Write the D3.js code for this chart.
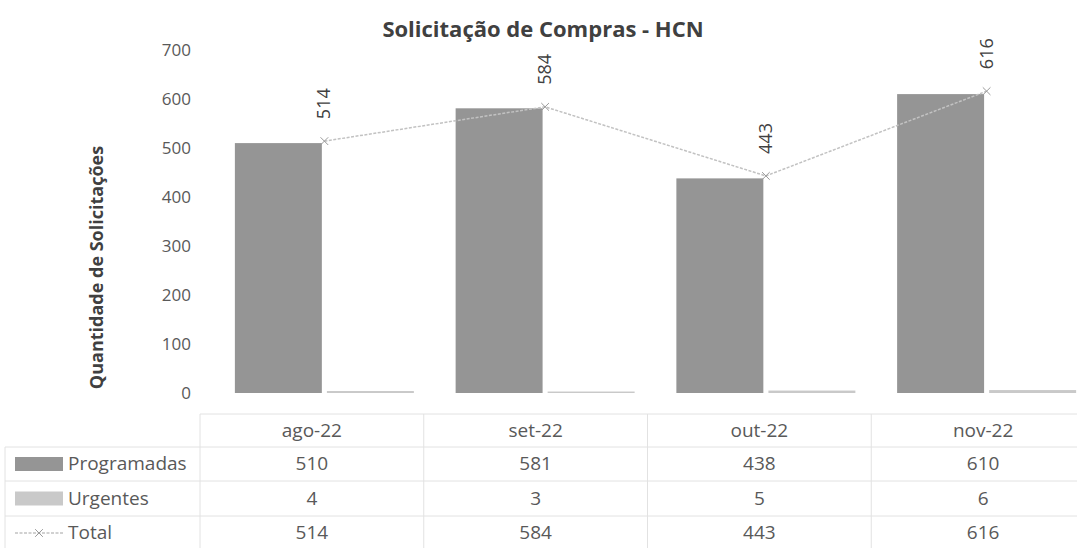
<!DOCTYPE html>
<html>
<head>
<meta charset="utf-8">
<script src="https://cdn.jsdelivr.net/npm/d3@7"></script>
<style>
  html, body { margin: 0; padding: 0; background: #fff; }
  svg { display: block; font-family: "Open Sans", "Noto Sans", sans-serif; }
</style>
</head>
<body>
<svg id="chart" width="1077" height="548"></svg>
<script>
const categories = ["ago-22", "set-22", "out-22", "nov-22"];
const programadas = [510, 581, 438, 610];
const urgentes = [4, 3, 5, 6];
const total = [514, 584, 443, 616];
const yTicks = [0, 100, 200, 300, 400, 500, 600, 700];
const seriesNames = ["Programadas", "Urgentes", "Total"];
const title = "Solicitação de Compras - HCN";
const yTitle = "Quantidade de Solicitações";

const colors = { Programadas: "#959595", Urgentes: "#c9c9c9", Total: "#c2c2c2" };
const textColor = "#595959";
const gridColor = "#e2e2e2";

const svg = d3.select("#chart");
const W = 1077, H = 548;

// plot band scale and data-table band scale
const x = d3.scaleBand().domain(categories).range([214, 1097]).padding(0);
const xt = d3.scaleBand().domain(categories).range([200, 1095]).padding(0);
const bw = x.bandwidth();
const groupW = 179;
const x1 = d3.scaleBand().domain(["Programadas", "Urgentes"])
  .range([(bw - groupW) / 2, (bw + groupW) / 2]).paddingInner(0.055);
const y = d3.scaleLinear().domain([0, 700]).range([393, 50]);

// Title
svg.append("text").attr("x", 543).attr("y", 37)
  .attr("text-anchor", "middle").attr("font-size", 22).attr("font-weight", "bold")
  .attr("fill", "#404040").text(title);

// Y axis title
svg.append("text")
  .attr("transform", `translate(103, ${(y(0) + y(700)) / 2 + 46}) rotate(-90)`)
  .attr("text-anchor", "middle").attr("font-size", 18).attr("font-weight", "bold")
  .attr("fill", "#404040").text(yTitle);

// Y axis
const yAxis = d3.axisLeft(y).tickValues(yTicks).tickSize(0).tickPadding(0);
const gy = svg.append("g").attr("transform", "translate(191,0)").call(yAxis);
gy.select(".domain").remove();
gy.selectAll("text").attr("font-size", 17).attr("fill", textColor)
  .attr("font-family", "\"Open Sans\", sans-serif");

// Bars
const bars = svg.append("g");
categories.forEach((c, i) => {
  const vals = { Programadas: programadas[i], Urgentes: urgentes[i] };
  ["Programadas", "Urgentes"].forEach(s => {
    bars.append("rect")
      .attr("x", x(c) + x1(s)).attr("width", x1.bandwidth())
      .attr("y", y(vals[s])).attr("height", y(0) - y(vals[s]))
      .attr("fill", colors[s]);
  });
});

// Total line
const cx = c => x(c) + bw / 2;
const pts = categories.map((c, i) => [cx(c), y(total[i])]);
svg.append("path").attr("d", d3.line()(pts))
  .attr("fill", "none").attr("stroke", colors.Total).attr("stroke-width", 1.5)
  .attr("stroke-dasharray", "3,1.5");
const cross = d3.symbol().type(d3.symbolX).size(40);
svg.append("g").selectAll("path.m").data(pts).join("path")
  .attr("transform", d => `translate(${d[0]},${d[1]})`)
  .attr("d", cross()).attr("fill", "none").attr("stroke", "#9a9a9a").attr("stroke-width", 1);

// Data labels (rotated)
svg.append("g").selectAll("text").data(categories).join("text")
  .attr("transform", (c, i) => `translate(${cx(c) + 6}, ${y(total[i]) - 22}) rotate(-90)`)
  .attr("text-anchor", "start").attr("font-size", 18).attr("fill", "#404040")
  .text((c, i) => total[i]);

// Data table
const rowTop = [414, 447, 481, 516, 550];
const tcx = c => xt(c) + xt.bandwidth() / 2;
const tg = svg.append("g");
rowTop.slice(0, 4).forEach((ry, k) => {
  tg.append("line").attr("x1", k === 0 ? xt.range()[0] : 5).attr("x2", W)
    .attr("y1", ry).attr("y2", ry).attr("stroke", gridColor).attr("stroke-width", 1);
});
categories.forEach(c => {
  tg.append("line").attr("x1", xt(c)).attr("x2", xt(c)).attr("y1", rowTop[0]).attr("y2", H)
    .attr("stroke", gridColor);
});
tg.append("line").attr("x1", 5).attr("x2", 5).attr("y1", rowTop[1]).attr("y2", H).attr("stroke", gridColor);

categories.forEach(c => {
  tg.append("text").attr("x", tcx(c)).attr("y", (rowTop[0] + rowTop[1]) / 2 + 6)
    .attr("text-anchor", "middle").attr("font-size", 19).attr("fill", textColor).text(c);
});
const rows = [programadas, urgentes, total];
rows.forEach((vals, r) => {
  const mid = (rowTop[r + 1] + rowTop[r + 2]) / 2;
  categories.forEach((c, i) => {
    tg.append("text").attr("x", tcx(c)).attr("y", mid + 6)
      .attr("text-anchor", "middle").attr("font-size", 19).attr("fill", textColor).text(vals[i]);
  });
  const name = seriesNames[r];
  if (r < 2) {
    tg.append("rect").attr("x", 15).attr("y", mid - 7).attr("width", 48).attr("height", 14)
      .attr("fill", colors[name]);
  } else {
    tg.append("line").attr("x1", 15).attr("x2", 63).attr("y1", mid).attr("y2", mid)
      .attr("stroke", colors.Total).attr("stroke-width", 1.5).attr("stroke-dasharray", "3,1.5");
    tg.append("path").attr("transform", `translate(39,${mid})`).attr("d", cross())
      .attr("fill", "none").attr("stroke", "#9a9a9a");
  }
  tg.append("text").attr("x", 68).attr("y", mid + 6).attr("font-size", 19)
    .attr("fill", textColor).text(name);
});
</script>
</body>
</html>
